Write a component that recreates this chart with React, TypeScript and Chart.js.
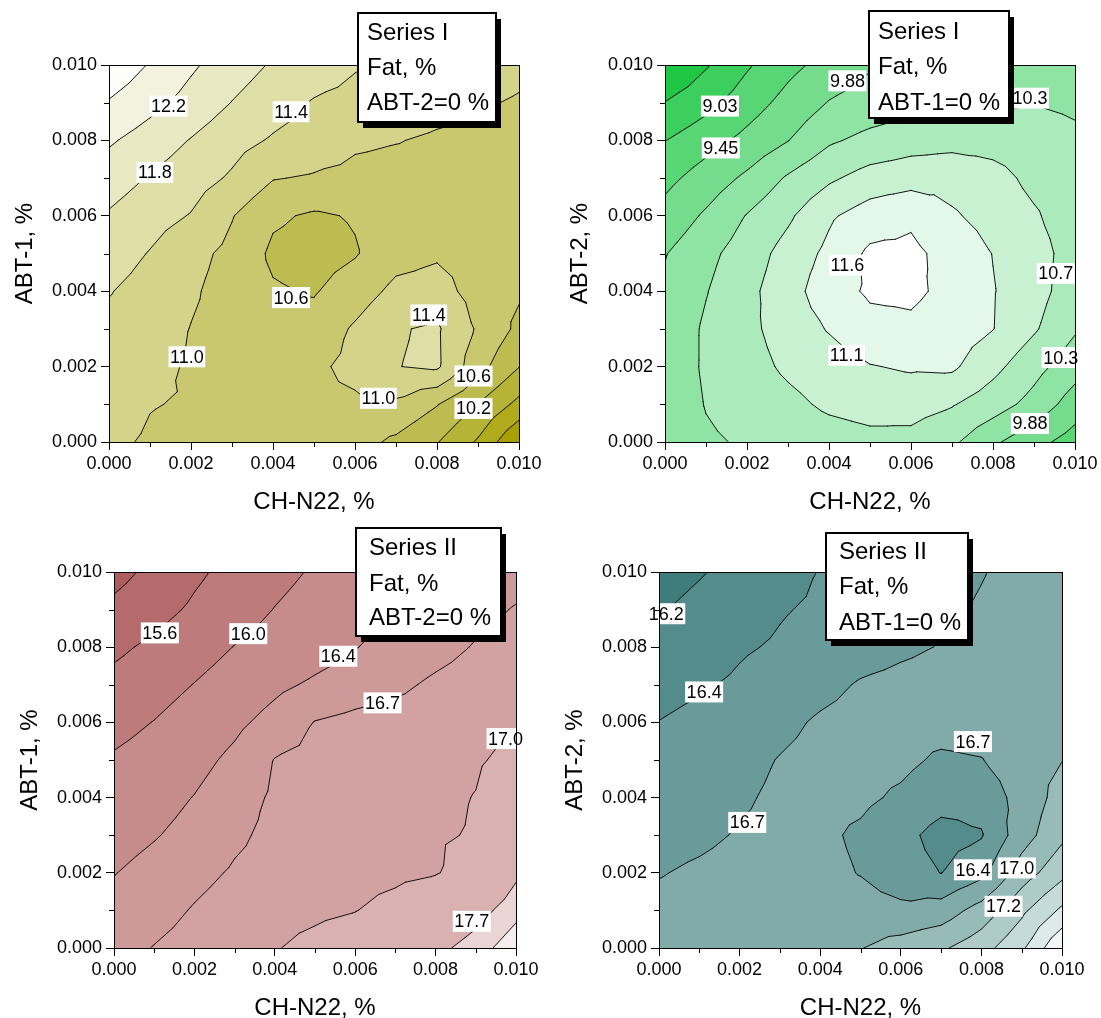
import React, { useEffect, useRef } from 'react';
import { Chart, registerables } from 'chart.js';

Chart.register(...registerables);

const FONT = 'Arial, "Liberation Sans", Helvetica, sans-serif';
Chart.defaults.font.family = FONT;
Chart.defaults.color = '#000';

// ---------- grid & ticks ----------
const GRID_X = [0, 0.001, 0.002, 0.003, 0.004, 0.005, 0.006, 0.007, 0.008, 0.009, 0.01];
const GRID_Y = [0, 0.001, 0.002, 0.003, 0.004, 0.005, 0.006, 0.007, 0.008, 0.009, 0.01];
const MINOR_TICKS = [0.001, 0.003, 0.005, 0.007, 0.009];
const X_TITLE = 'CH-N22, %';

// ---------- Panel 1: Series I, ABT-2 = 0 (rows: y = 0.000 ... 0.010) ----------
const P1_Z = [
  [11.05, 10.97, 10.93, 10.88, 10.83, 10.78, 10.75, 10.52, 10.22, 9.75, 9.0],
  [11.12, 11.01, 10.98, 10.95, 10.93, 10.93, 10.94, 10.93, 10.62, 10.19, 9.69],
  [11.2, 11.08, 10.97, 10.9, 10.85, 10.93, 11.1, 11.39, 11.46, 10.75, 10.21],
  [11.3, 11.18, 10.99, 10.85, 10.72, 10.75, 11.05, 11.37, 11.45, 10.95, 10.51],
  [11.42, 11.25, 11.05, 10.85, 10.64, 10.57, 10.8, 11.1, 11.15, 10.85, 10.65],
  [11.59, 11.38, 11.12, 10.9, 10.53, 10.45, 10.57, 10.85, 10.95, 10.85, 10.71],
  [11.76, 11.55, 11.38, 11.02, 10.66, 10.55, 10.63, 10.8, 10.85, 10.83, 10.78],
  [11.99, 11.77, 11.57, 11.35, 11.02, 10.96, 10.9, 10.87, 10.87, 10.86, 10.84],
  [12.25, 12.02, 11.78, 11.54, 11.36, 11.24, 11.06, 11.015, 10.95, 10.93, 10.91],
  [12.57, 12.32, 12.06, 11.79, 11.57, 11.37, 11.29, 11.21, 11.12, 11.035, 10.97],
  [12.9, 12.57, 12.26, 11.99, 11.76, 11.6, 11.43, 11.33, 11.24, 11.16, 11.08],
];
const P1_LEVELS = [9.4, 9.8, 10.2, 10.6, 11.0, 11.4, 11.8, 12.2, 12.6];
const P1_COLORS = ['#a8a000', '#afab1d', '#b6b437', '#bdbc50', '#c9c86e', '#d4d38a', '#dedea6', '#e8e8c3', '#f2f2df', '#fdfdf9'];
const P1_LABELS = [
  ['12.2', 0.00145, 0.00891], ['11.8', 0.00112, 0.00715], ['11.4', 0.00444, 0.00876],
  ['10.6', 0.00444, 0.00383], ['11.0', 0.0019, 0.00226], ['11.4', 0.0078, 0.00337],
  ['11.0', 0.00657, 0.00116], ['10.6', 0.00889, 0.00175], ['10.2', 0.00889, 0.00089],
];
const P1_LEGEND = ['Series I', 'Fat, %', 'ABT-2=0 %'];

// ---------- Panel 2: Series I, ABT-1 = 0 ----------
const P2_Z = [
  [9.95, 10.24, 10.35, 10.45, 10.55, 10.62, 10.6, 10.38, 9.95, 9.6, 9.25],
  [10.0, 10.32, 10.47, 10.63, 10.8, 10.88, 10.9, 10.76, 10.5, 10.15, 9.68],
  [10.02, 10.36, 10.58, 10.8, 10.95, 11.13, 11.2, 11.22, 10.85, 10.45, 10.05],
  [10.0, 10.36, 10.63, 10.91, 11.18, 11.45, 11.5, 11.35, 11.16, 10.78, 10.35],
  [9.95, 10.28, 10.62, 10.97, 11.4, 11.64, 11.66, 11.47, 11.17, 10.9, 10.5],
  [9.86, 10.18, 10.51, 10.89, 11.25, 11.66, 11.68, 11.42, 11.14, 10.9, 10.55],
  [9.6, 9.94, 10.32, 10.66, 11.09, 11.35, 11.5, 11.2, 11.0, 10.78, 10.5],
  [9.33, 9.64, 9.96, 10.35, 10.66, 10.9, 10.98, 11.0, 10.88, 10.62, 10.47],
  [9.02, 9.29, 9.57, 9.87, 10.24, 10.42, 10.55, 10.6, 10.57, 10.48, 10.38],
  [8.61, 8.9, 9.25, 9.59, 9.9, 10.05, 10.15, 10.2, 10.22, 10.29, 10.23],
  [8.14, 8.56, 8.98, 9.33, 9.6, 9.84, 9.95, 10.02, 10.08, 10.1, 10.08],
];
const P2_LEVELS = [8.6, 9.03, 9.45, 9.88, 10.3, 10.73, 11.15, 11.58];
const P2_COLORS = ['#1fc744', '#3ccf5d', '#58d675', '#74dc8c', '#8fe3a3', '#abeaba', '#c7f1d1', '#e3f8e8', '#ffffff'];
const P2_LABELS = [
  ['9.03', 0.00134, 0.00891], ['9.45', 0.00136, 0.0078], ['9.88', 0.00445, 0.00958],
  ['10.3', 0.0089, 0.00912], ['11.6', 0.00445, 0.00469], ['10.7', 0.00953, 0.00447],
  ['11.1', 0.00443, 0.0023], ['10.3', 0.00965, 0.00224], ['9.88', 0.0089, 0.00049],
];
const P2_LEGEND = ['Series I', 'Fat, %', 'ABT-1=0 %'];

// ---------- Panel 3: Series II, ABT-2 = 0 ----------
const P3_Z = [
  [16.6, 16.71, 16.8, 16.89, 16.98, 17.1, 17.22, 17.38, 17.6, 17.85, 18.2],
  [16.5, 16.6, 16.72, 16.82, 16.88, 16.93, 16.99, 17.12, 17.3, 17.55, 17.9],
  [16.39, 16.5, 16.62, 16.73, 16.8, 16.84, 16.88, 16.92, 16.98, 17.15, 17.63],
  [16.28, 16.38, 16.5, 16.65, 16.77, 16.82, 16.86, 16.9, 16.97, 17.02, 17.45],
  [16.16, 16.28, 16.41, 16.58, 16.74, 16.8, 16.84, 16.88, 16.93, 17.01, 17.27],
  [16.04, 16.15, 16.3, 16.47, 16.71, 16.78, 16.82, 16.86, 16.9, 16.96, 17.1],
  [15.88, 16.01, 16.17, 16.33, 16.51, 16.71, 16.78, 16.82, 16.85, 16.9, 16.96],
  [15.71, 15.85, 16.01, 16.17, 16.33, 16.45, 16.55, 16.64, 16.75, 16.83, 16.88],
  [15.52, 15.68, 15.84, 16.01, 16.13, 16.26, 16.39, 16.5, 16.6, 16.72, 16.8],
  [15.29, 15.47, 15.66, 15.84, 16.01, 16.15, 16.28, 16.42, 16.52, 16.61, 16.72],
  [15.07, 15.3, 15.53, 15.72, 15.89, 16.04, 16.16, 16.28, 16.39, 16.5, 16.58],
];
const P3_LEVELS = [15.2, 15.6, 16.0, 16.4, 16.7, 17.0, 17.7, 18.0];
const P3_COLORS = ['#ad5d5d', '#b56b6b', '#be7b7b', '#c68b8b', '#cd9999', '#d2a2a2', '#d9b1b1', '#ead4d4', '#f6eeee'];
const P3_LABELS = [
  ['15.6', 0.00114, 0.00838], ['16.0', 0.00334, 0.00836], ['16.4', 0.00558, 0.00776],
  ['16.7', 0.00668, 0.00652], ['17.0', 0.00974, 0.00557], ['17.7', 0.0089, 0.00071],
];
const P3_LEGEND = ['Series II', 'Fat, %', 'ABT-2=0 %'];

// ---------- Panel 4: Series II, ABT-1 = 0 ----------
const P4_Z = [
  [16.8, 16.82, 16.85, 16.88, 16.92, 16.96, 17.08, 17.2, 17.4, 17.73, 18.3],
  [16.75, 16.78, 16.81, 16.83, 16.82, 16.8, 16.76, 16.82, 17.08, 17.45, 17.83],
  [16.69, 16.73, 16.77, 16.8, 16.77, 16.69, 16.55, 16.425, 16.62, 17.1, 17.43],
  [16.63, 16.66, 16.715, 16.76, 16.75, 16.66, 16.52, 16.33, 16.41, 16.85, 17.18],
  [16.56, 16.62, 16.67, 16.74, 16.77, 16.75, 16.66, 16.54, 16.53, 16.8, 17.07],
  [16.5, 16.56, 16.63, 16.71, 16.77, 16.79, 16.76, 16.66, 16.69, 16.85, 16.965],
  [16.435, 16.5, 16.57, 16.64, 16.73, 16.78, 16.8, 16.8, 16.82, 16.88, 16.94],
  [16.34, 16.4, 16.47, 16.55, 16.63, 16.72, 16.76, 16.79, 16.82, 16.86, 16.91],
  [16.23, 16.3, 16.4, 16.46, 16.53, 16.6, 16.66, 16.71, 16.76, 16.82, 16.88],
  [16.14, 16.23, 16.32, 16.41, 16.47, 16.53, 16.6, 16.66, 16.72, 16.78, 16.85],
  [16.05, 16.14, 16.24, 16.33, 16.44, 16.5, 16.57, 16.63, 16.69, 16.76, 16.82],
];
const P4_LEVELS = [16.16, 16.43, 16.7, 16.97, 17.24, 17.51, 17.78, 18.05];
const P4_COLORS = ['#3f7c7c', '#538c8b', '#699b9a', '#80aba9', '#97bbb9', '#aecbca', '#c5dbda', '#dcebea', '#f1f7f7'];
const P4_LABELS = [
  ['16.2', 0.00018, 0.00889], ['16.4', 0.00112, 0.00681], ['16.7', 0.00219, 0.00334],
  ['16.7', 0.00779, 0.00549], ['16.4', 0.00779, 0.00208], ['17.0', 0.00888, 0.00213],
  ['17.2', 0.00855, 0.00111],
];
const P4_LEGEND = ['Series II', 'Fat, %', 'ABT-1=0 %'];

// ---------- layout ----------
const PANELS = [
  {
    id: 1, z: P1_Z, levels: P1_LEVELS, colors: P1_COLORS, labels: P1_LABELS, legend: P1_LEGEND, yTitle: 'ABT-1, %',
    canvas: { left: 0, top: 0, width: 550, height: 540 },
    area: { left: 109, top: 65, right: 519, bottom: 442 },
    yTitlePad: 10.6, xTitlePad: 23,
    box: { x: 358, y: 13, w: 138, h: 109, tx: 367, base: [40, 75, 110] },
  },
  {
    id: 2, z: P2_Z, levels: P2_LEVELS, colors: P2_COLORS, labels: P2_LABELS, legend: P2_LEGEND, yTitle: 'ABT-2, %',
    canvas: { left: 550, top: 0, width: 551, height: 540 },
    area: { left: 115, top: 65, right: 525, bottom: 442 },
    yTitlePad: 15.6, xTitlePad: 23,
    box: { x: 319, y: 11, w: 140, h: 107, tx: 328, base: [39, 74, 110] },
  },
  {
    id: 3, z: P3_Z, levels: P3_LEVELS, colors: P3_COLORS, labels: P3_LABELS, legend: P3_LEGEND, yTitle: 'ABT-1, %',
    canvas: { left: 0, top: 505, width: 550, height: 540 },
    area: { left: 114, top: 67, right: 516, bottom: 443 },
    yTitlePad: 15.6, xTitlePad: 22,
    box: { x: 356, y: 23, w: 145, h: 108, tx: 369, base: [50, 86, 120] },
  },
  {
    id: 4, z: P4_Z, levels: P4_LEVELS, colors: P4_COLORS, labels: P4_LABELS, legend: P4_LEGEND, yTitle: 'ABT-2, %',
    canvas: { left: 550, top: 505, width: 551, height: 540 },
    area: { left: 109, top: 67, right: 512, bottom: 443 },
    yTitlePad: 10.6, xTitlePad: 22,
    box: { x: 276, y: 28, w: 142, h: 107, tx: 289, base: [54, 89, 125] },
  },
];

// ---------- contour helpers ----------
function clipTri(tri: number[][], L: number) {
  const out: number[][] = [];
  for (let k = 0; k < 3; k++) {
    const a = tri[k];
    const b = tri[(k + 1) % 3];
    const ain = a[2] >= L;
    const bin = b[2] >= L;
    if (ain) out.push(a);
    if (ain !== bin) {
      const t = (L - a[2]) / (b[2] - a[2]);
      out.push([a[0] + t * (b[0] - a[0]), a[1] + t * (b[1] - a[1]), L]);
    }
  }
  return out;
}

function triSegment(tri: number[][], L: number) {
  const pts: number[][] = [];
  for (let k = 0; k < 3; k++) {
    const a = tri[k];
    const b = tri[(k + 1) % 3];
    if ((a[2] >= L) !== (b[2] >= L)) {
      const t = (L - a[2]) / (b[2] - a[2]);
      pts.push([a[0] + t * (b[0] - a[0]), a[1] + t * (b[1] - a[1])]);
    }
  }
  return pts.length === 2 ? pts : null;
}

function makeContourPlugin(p: any) {
  return {
    id: 'contour' + p.id,
    afterDraw(chart: any) {
      const { ctx, chartArea: ca, scales } = chart;
      const xs = scales.x;
      const ys = scales.y;
      const px = GRID_X.map((v) => xs.getPixelForValue(v));
      const py = GRID_Y.map((v) => ys.getPixelForValue(v));
      const tris: number[][][] = [];
      for (let j = 0; j < GRID_Y.length - 1; j++) {
        for (let i = 0; i < GRID_X.length - 1; i++) {
          const a = [px[i], py[j], p.z[j][i]];
          const b = [px[i + 1], py[j], p.z[j][i + 1]];
          const c = [px[i + 1], py[j + 1], p.z[j + 1][i + 1]];
          const d = [px[i], py[j + 1], p.z[j + 1][i]];
          const m = [(a[0] + b[0]) / 2, (a[1] + d[1]) / 2, (a[2] + b[2] + c[2] + d[2]) / 4];
          tris.push([a, b, m], [b, c, m], [c, d, m], [d, a, m]);
        }
      }
      const w = ca.right - ca.left;
      const h = ca.bottom - ca.top;

      ctx.save();
      ctx.beginPath();
      ctx.rect(ca.left, ca.top, w, h);
      ctx.clip();
      ctx.fillStyle = p.colors[0];
      ctx.fillRect(ca.left, ca.top, w, h);
      p.levels.forEach((L: number, k: number) => {
        const path = new Path2D();
        for (const t of tris) {
          const poly = clipTri(t, L);
          if (poly.length >= 3) {
            path.moveTo(poly[0][0], poly[0][1]);
            for (let q = 1; q < poly.length; q++) path.lineTo(poly[q][0], poly[q][1]);
            path.closePath();
          }
        }
        ctx.fillStyle = p.colors[k + 1];
        ctx.fill(path);
      });
      ctx.beginPath();
      for (const L of p.levels) {
        for (const t of tris) {
          const s = triSegment(t, L);
          if (s) {
            ctx.moveTo(s[0][0], s[0][1]);
            ctx.lineTo(s[1][0], s[1][1]);
          }
        }
      }
      ctx.strokeStyle = '#000';
      ctx.lineWidth = 0.9;
      ctx.lineCap = 'round';
      ctx.lineJoin = 'round';
      ctx.stroke();
      ctx.restore();

      // contour labels
      ctx.save();
      ctx.font = `18px ${FONT}`;
      ctx.textAlign = 'center';
      ctx.textBaseline = 'middle';
      for (const [text, x, y] of p.labels) {
        const cx = xs.getPixelForValue(x);
        const cy = ys.getPixelForValue(y);
        const tw = ctx.measureText(text).width + 3;
        ctx.fillStyle = '#fff';
        ctx.fillRect(cx - tw / 2, cy - 10.5, tw, 21);
        ctx.fillStyle = '#000';
        ctx.fillText(text, cx, cy + 1);
      }
      ctx.restore();

      // frame + minor ticks
      ctx.save();
      ctx.strokeStyle = '#000';
      ctx.lineWidth = 1;
      ctx.strokeRect(ca.left + 0.5, ca.top + 0.5, w, h);
      ctx.beginPath();
      for (const v of MINOR_TICKS) {
        const x = Math.round(xs.getPixelForValue(v)) + 0.5;
        ctx.moveTo(x, ca.bottom);
        ctx.lineTo(x, ca.bottom + 5);
        const y = Math.round(ys.getPixelForValue(v)) + 0.5;
        ctx.moveTo(ca.left, y);
        ctx.lineTo(ca.left - 5, y);
      }
      ctx.stroke();
      ctx.restore();

      // legend box
      const b = p.box;
      ctx.save();
      ctx.fillStyle = '#000';
      ctx.fillRect(b.x + 5, b.y + 6, b.w, b.h);
      ctx.fillStyle = '#fff';
      ctx.fillRect(b.x, b.y, b.w, b.h);
      ctx.lineWidth = 2;
      ctx.strokeStyle = '#000';
      ctx.strokeRect(b.x, b.y, b.w, b.h);
      ctx.fillStyle = '#000';
      ctx.font = `24px ${FONT}`;
      ctx.textAlign = 'left';
      ctx.textBaseline = 'alphabetic';
      p.legend.forEach((line: string, k: number) => ctx.fillText(line, b.tx, b.base[k]));
      ctx.restore();
    },
  };
}

function ContourPanel({ p }: { p: any }) {
  const ref = useRef<HTMLCanvasElement>(null);
  useEffect(() => {
    const canvas = ref.current;
    if (!canvas) return;
    const tickFont = { size: 18, family: FONT };
    const titleFont = { size: 24, family: FONT };
    const chart = new Chart(canvas, {
      type: 'scatter',
      data: { datasets: [{ data: [], pointRadius: 0 }] },
      options: {
        animation: false,
        responsive: false,
        devicePixelRatio: 1,
        events: [],
        layout: { padding: { left: 0, top: p.area.top, right: p.canvas.width - p.area.right, bottom: 0 } },
        plugins: { legend: { display: false }, tooltip: { enabled: false } },
        scales: {
          x: {
            type: 'linear',
            position: 'bottom',
            min: 0,
            max: 0.01,
            ticks: {
              stepSize: 0.002,
              autoSkip: false,
              maxRotation: 0,
              padding: 3,
              color: '#000',
              font: tickFont,
              callback: (v: any) => Number(v).toFixed(3),
            },
            grid: { display: true, drawOnChartArea: false, drawTicks: true, tickLength: 8, color: '#000', lineWidth: 1 },
            border: { display: true, color: '#000', width: 1 },
            title: { display: true, text: X_TITLE, color: '#000', font: titleFont, padding: { top: 0, bottom: p.xTitlePad } },
            afterFit: (s: any) => {
              s.height = p.canvas.height - p.area.bottom;
            },
          },
          y: {
            type: 'linear',
            position: 'left',
            min: 0,
            max: 0.01,
            ticks: {
              stepSize: 0.002,
              autoSkip: false,
              padding: 4,
              color: '#000',
              font: tickFont,
              callback: (v: any) => Number(v).toFixed(3),
            },
            grid: { display: true, drawOnChartArea: false, drawTicks: true, tickLength: 8, color: '#000', lineWidth: 1 },
            border: { display: true, color: '#000', width: 1 },
            title: { display: true, text: p.yTitle, color: '#000', font: titleFont, padding: { top: p.yTitlePad, bottom: 0 } },
            afterFit: (s: any) => {
              s.width = p.area.left;
            },
          },
        },
      },
      plugins: [makeContourPlugin(p)],
    } as any);
    return () => chart.destroy();
  }, [p]);
  return (
    <canvas
      ref={ref}
      width={p.canvas.width}
      height={p.canvas.height}
      style={{
        position: 'absolute',
        left: p.canvas.left,
        top: p.canvas.top,
        width: p.canvas.width,
        height: p.canvas.height,
      }}
    />
  );
}

export default function App() {
  return (
    <div
      style={{
        position: 'absolute',
        left: 0,
        top: 0,
        width: 1101,
        height: 1018,
        overflow: 'hidden',
        background: '#fff',
      }}
    >
      {PANELS.map((p) => (
        <ContourPanel key={p.id} p={p} />
      ))}
    </div>
  );
}
